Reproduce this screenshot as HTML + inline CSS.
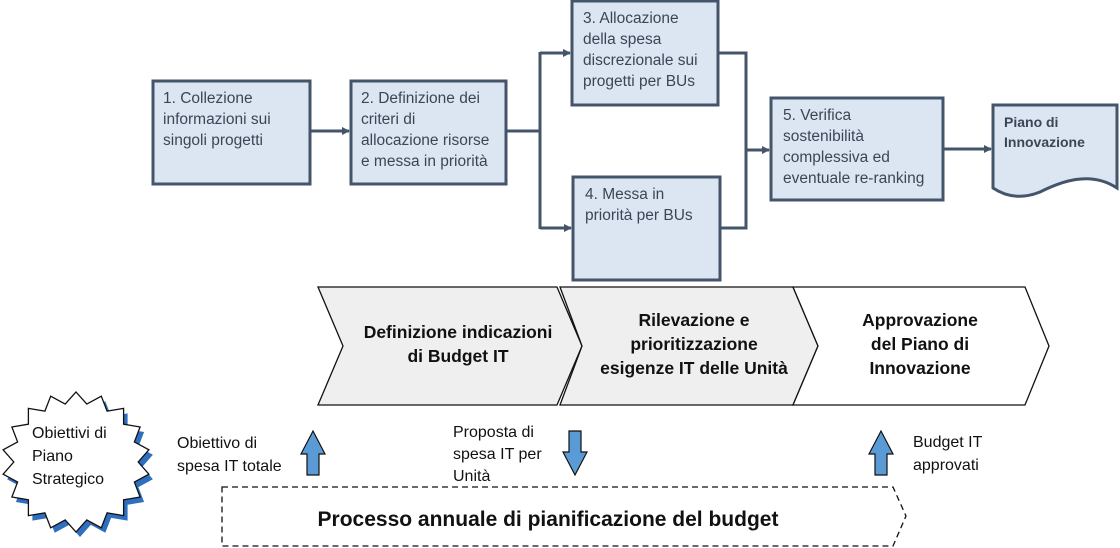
<!DOCTYPE html>
<html><head><meta charset="utf-8"><style>
body{margin:0;background:#fff}
svg{display:block}
text{font-family:"Liberation Sans",sans-serif}
.s{font-size:15.5px;fill:#3a4657}
.b{font-size:17.5px;font-weight:bold;fill:#111}
.k{font-size:16px;fill:#111}
</style></head><body>
<svg width="1120" height="548" viewBox="0 0 1120 548">
<defs><marker id="a" markerWidth="8" markerHeight="8" refX="7" refY="4" orient="auto" markerUnits="userSpaceOnUse"><path d="M0,0 L8,4 L0,8z" fill="#44546a"/></marker></defs>
<g fill="#dce6f2" stroke="#44546a" stroke-width="3">
<rect x="153" y="81" width="157" height="103"/>
<rect x="351" y="81" width="155" height="103"/>
<rect x="572" y="1" width="146" height="104"/>
<rect x="573" y="177" width="147" height="103"/>
<rect x="771" y="98" width="172" height="102"/>
<path d="M993,105 H1117 V188 C1090,170 1060,182 1040,192 C1020,200 1005,196 993,188 Z"/>
</g>
<g fill="none" stroke="#44546a" stroke-width="3">
<path d="M310,131 H349" marker-end="url(#a)"/>
<path d="M506,131 H540"/>
<path d="M540,52 V229"/>
<path d="M540,53 H570" marker-end="url(#a)"/>
<path d="M540,228 H571" marker-end="url(#a)"/>
<path d="M718,53 H746 V228 H720"/>
<path d="M746,150 H769" marker-end="url(#a)"/>
<path d="M943,149 H991" marker-end="url(#a)"/>
</g>
<g class="s">
<text x="163" y="103">1. Collezione</text><text x="163" y="124">informazioni sui</text><text x="163" y="145">singoli progetti</text>
<text x="361" y="103">2. Definizione dei</text><text x="361" y="124">criteri di</text><text x="361" y="145">allocazione risorse</text><text x="361" y="166">e messa in priorità</text>
<text x="583" y="23">3. Allocazione</text><text x="583" y="44">della spesa</text><text x="583" y="65">discrezionale sui</text><text x="583" y="86">progetti per BUs</text>
<text x="585" y="199">4. Messa in</text><text x="585" y="220">priorità per BUs</text>
<text x="783" y="120">5. Verifica</text><text x="783" y="141">sostenibilità</text><text x="783" y="162">complessiva ed</text><text x="783" y="183">eventuale re-ranking</text>
<text x="1004" y="127" font-weight="bold" font-size="14">Piano di</text><text x="1004" y="147" font-weight="bold" font-size="14">Innovazione</text>
</g>
<g fill="#efefef" stroke="#111" stroke-width="1.3">
<path d="M318,287 H557 L582,346 L557,405 H318 L343,346 Z"/>
<path d="M560,287 H793 L818,346 L793,405 H560 L582,346 Z"/>
<path d="M793,287 H1025 L1049,346 L1025,405 H793 L818,346 Z" fill="#fff"/>
</g>
<g class="b" text-anchor="middle">
<text x="458" y="338">Definizione indicazioni</text><text x="458" y="362">di Budget IT</text>
<text x="694" y="326">Rilevazione e</text><text x="694" y="350">prioritizzazione</text><text x="694" y="374">esigenze IT delle Unità</text>
<text x="920" y="326">Approvazione</text><text x="920" y="350">del Piano di</text><text x="920" y="374">Innovazione</text>
</g>
<polygon id="sh" fill="#2f6fbf" transform="translate(4,5)"/>
<polygon id="st" fill="#fff" stroke="#111" stroke-width="1.3"/>
<g class="k">
<text x="32" y="438">Obiettivi di</text><text x="32" y="461">Piano</text><text x="32" y="484">Strategico</text>
<text x="177" y="448">Obiettivo di</text><text x="177" y="471">spesa IT totale</text>
<text x="453" y="437">Proposta di</text><text x="453" y="459">spesa IT per</text><text x="453" y="481">Unità</text>
<text x="913" y="447">Budget IT</text><text x="913" y="470">approvati</text>
</g>
<g fill="#5b9bd5" stroke="#111" stroke-width="1.2">
<path d="M313,431 L325,454 H319 V475 H307 V454 H301 Z"/>
<path d="M575,475 L587,452 H581 V431 H569 V452 H563 Z"/>
<path d="M881,431 L893,454 H887 V475 H875 V454 H869 Z"/>
</g>
<path d="M222,487 H893 L906,516 L893,546 H222 Z" fill="none" stroke="#111" stroke-width="1.3" stroke-dasharray="6,4"/>
<text x="548" y="526" text-anchor="middle" font-size="21" font-weight="bold" fill="#111">Processo annuale di pianificazione del budget</text>
</svg>
<script>
var p=[],n=18,cx=76,cy=462;
for(var i=0;i<2*n;i++){var a=Math.PI*i/n-Math.PI/2,r=i%2?0.84:1;p.push((cx+74*r*Math.cos(a)).toFixed(1)+","+(cy+70*r*Math.sin(a)).toFixed(1));}
document.getElementById("st").setAttribute("points",p.join(" "));
document.getElementById("sh").setAttribute("points",p.join(" "));
</script>
</body></html>
